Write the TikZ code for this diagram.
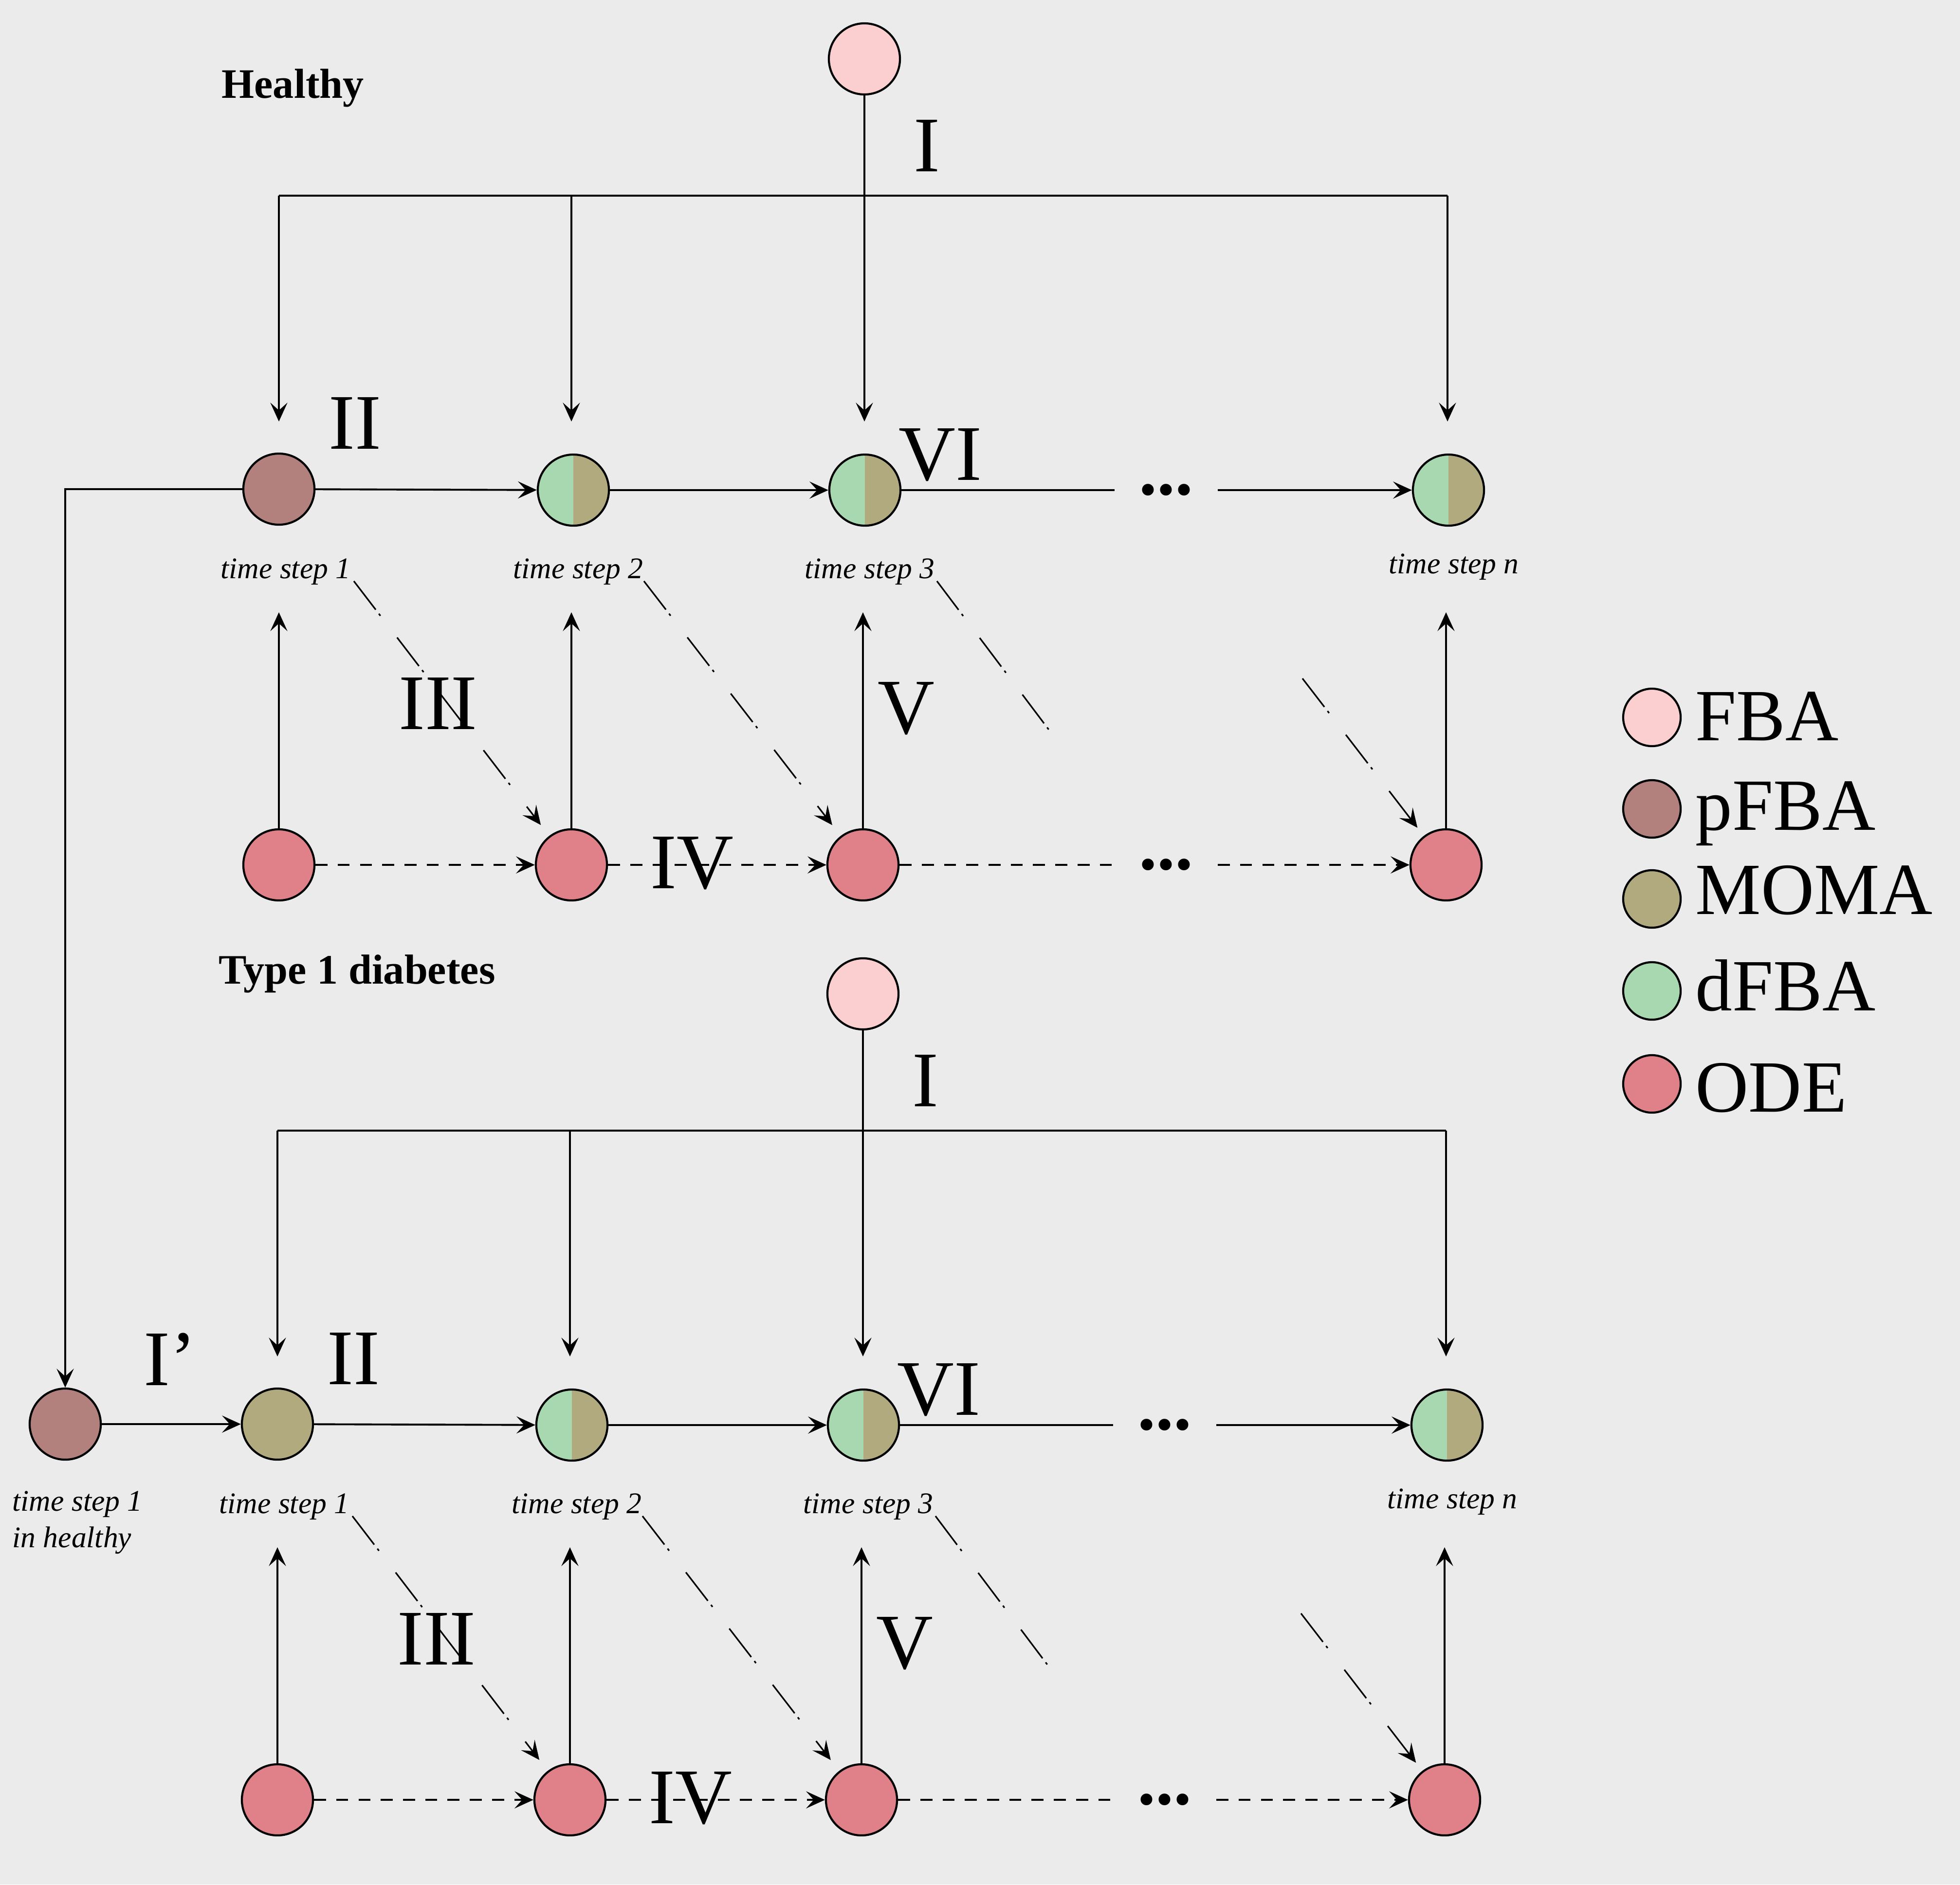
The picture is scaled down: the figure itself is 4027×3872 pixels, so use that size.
\documentclass[tikz,border=0pt]{standalone}
\usepackage{fontspec}
\setmainfont{Liberation Serif}
\usetikzlibrary{arrows.meta}
\definecolor{bgc}{RGB}{235,235,235}
\definecolor{cFBA}{RGB}{251,207,207}
\definecolor{cPFBA}{RGB}{178,128,125}
\definecolor{cMOMA}{RGB}{176,170,126}
\definecolor{cDFBA}{RGB}{168,216,176}
\definecolor{cODE}{RGB}{224,128,136}
\tikzset{
  circ/.style={circle, draw, line width=1.2pt, minimum size=1.46cm, inner sep=0pt},
  fbac/.style={circ, fill=cFBA},
  pfbac/.style={circ, fill=cPFBA},
  momac/.style={circ, fill=cMOMA},
  odec/.style={circ, fill=cODE},
  halfc/.style={circ, fill=cDFBA, path picture={\fill[cMOMA] (path picture bounding box.north) rectangle (path picture bounding box.south east);}},
  lgc/.style={circle, draw, line width=1.2pt, minimum size=1.18cm, inner sep=0pt},
  roman/.style={font=\fontsize{46}{50}\selectfont, inner sep=0pt},
  lgt/.style={font=\fontsize{43}{48}\selectfont, inner sep=0pt, anchor=base west},
  ttl/.style={font=\fontsize{24.5}{29}\selectfont\bfseries, inner sep=0pt, anchor=base west},
  tslab/.style={font=\fontsize{17.5}{21.3}\selectfont\itshape, inner sep=0pt, anchor=base},
  dotsn/.style={font=\fontsize{42}{46}\selectfont\bfseries, inner xsep=0.5cm, inner ysep=0pt},
  mainl/.style={line width=1.1pt},
  thinl/.style={line width=0.9pt},
  dashl/.style={line width=1.1pt, dash pattern=on 7pt off 6pt},
  ddl/.style={line width=0.9pt, dash pattern=on 21pt off 3pt on 1.5pt off 16pt},
  >={Stealth[length=11pt,width=10pt,inset=4.5pt]}
}
\newcommand{\mypanel}[4]{%
\begin{scope}[shift={(#2,#3)}]
  \node[fbac] (#1fba) at (1776,121) {};
  \coordinate (#1busL) at (573,402);
  \coordinate (#1busM) at (1174,402);
  \coordinate (#1busR) at (2974,402);
  \coordinate (#1t1) at (573,866);
  \coordinate (#1t2) at (1174,866);
  \coordinate (#1t3) at (1776,866);
  \coordinate (#1tn) at (2974,866);
  \draw[thinl] (#1busL) -- (#1busR);
  \draw[thinl,->] (#1busL) -- (#1t1);
  \draw[thinl,->] (#1busM) -- (#1t2);
  \draw[thinl,->] (#1fba) -- (#1t3);
  \draw[thinl,->] (#1busR) -- (#1tn);
  % main row
  \node[#4] (#1c1) at (573,1005) {};
  \node[halfc] (#1c2) at (1178,1007) {};
  \node[halfc] (#1c3) at (1777,1007) {};
  \node[halfc] (#1cn) at (2976,1007) {};
  \node[dotsn] (#1da) at (2396,1007) {...};
  \draw[mainl,->] (#1c1) -- (#1c2);
  \draw[mainl,->] (#1c2) -- (#1c3);
  \draw[mainl] (#1c3) -- (#1da);
  \draw[mainl,->] (#1da) -- (#1cn);
  % time step labels
  \node[tslab] (#1l1) at (587,1188) {time step 1};
  \node[tslab] (#1l2) at (1188,1188) {time step 2};
  \node[tslab] (#1l3) at (1787,1188) {time step 3};
  \node[tslab] (#1ln) at (2987,1178) {time step n};
  % ODE row
  \node[odec] (#1o1) at (573,1777) {};
  \node[odec] (#1o2) at (1174,1777) {};
  \node[odec] (#1o3) at (1773,1777) {};
  \node[odec] (#1on) at (2971,1777) {};
  \node[dotsn] (#1db) at (2396,1777) {...};
  \draw[dashl,->] (#1o1) -- (#1o2);
  \draw[dashl,->] (#1o2) -- (#1o3);
  \draw[dashl] (#1o3) -- (#1db);
  \draw[dashl,->] (#1db) -- (#1on);
  % up arrows
  \coordinate (#1u1) at (573,1258);
  \coordinate (#1u2) at (1174,1258);
  \coordinate (#1u3) at (1773,1258);
  \coordinate (#1un) at (2971,1258);
  \draw[thinl,->] (#1o1) -- (#1u1);
  \draw[thinl,->] (#1o2) -- (#1u2);
  \draw[thinl,->] (#1o3) -- (#1u3);
  \draw[thinl,->] (#1on) -- (#1un);
  % diagonals
  \coordinate (#1s1) at (727,1194);
  \coordinate (#1s2) at (1323,1194);
  \coordinate (#1s3) at (1925,1194);
  \coordinate (#1e3) at (2172,1522);
  \coordinate (#1s4) at (2676,1394);
  \draw[ddl,->,shorten >=8pt] (#1s1) -- (#1o2);
  \draw[ddl,->,shorten >=8pt] (#1s2) -- (#1o3);
  \draw[ddl] (#1s3) -- (#1e3);
  \draw[ddl,->,shorten >=6pt] (#1s4) -- (#1on);
  % roman labels
  \node[roman] (#1rI) at (1904,300) {I};
  \node[roman] (#1rII) at (729,870) {II};
  \node[roman] (#1rVI) at (1932,935) {VI};
  \node[roman] (#1rIII) at (900,1446) {III};
  \node[roman] (#1rV) at (1862,1456) {V};
  \node[roman] (#1rIV) at (1422,1774) {IV};
\end{scope}}
\begin{document}
\begin{tikzpicture}[x=0.01cm,y=-0.01cm]
  \fill[bgc] (0,0) rectangle (4027,3872);
  \useasboundingbox (0,0) rectangle (4027,3872);
  \node[ttl] (hl) at (455,201) {Healthy};
  \node[ttl] (t1d) at (449,2021) {Type 1 diabetes};
  \mypanel{T}{0}{0}{pfbac}
  \mypanel{B}{-3}{1921}{momac}
  % link from healthy time step 1
  \node[pfbac] (p0) at (134,2926) {};
  \draw[mainl,->] (Tc1.west) -| (p0.north);
  \draw[mainl,->] (p0) -- (Bc1);
  \node[roman] (lIp) at (349,2793) {I’};
  \node[tslab, align=left, anchor=west] (lh) at (25,3128) {time step 1\\in healthy};
  % legend
  \node[lgc, fill=cFBA] (g1) at (3394,1474) {};
  \node[lgc, fill=cPFBA] (g2) at (3394,1662) {};
  \node[lgc, fill=cMOMA] (g3) at (3394,1847) {};
  \node[lgc, fill=cDFBA] (g4) at (3394,2036) {};
  \node[lgc, fill=cODE] (g5) at (3394,2227) {};
  \node[lgt] (gt1) at (3483,1521) {FBA};
  \node[lgt] (gt2) at (3483,1705) {pFBA};
  \node[lgt] (gt3) at (3483,1878) {MOMA};
  \node[lgt] (gt4) at (3483,2076) {dFBA};
  \node[lgt] (gt5) at (3483,2284) {ODE};
\end{tikzpicture}
\end{document}
